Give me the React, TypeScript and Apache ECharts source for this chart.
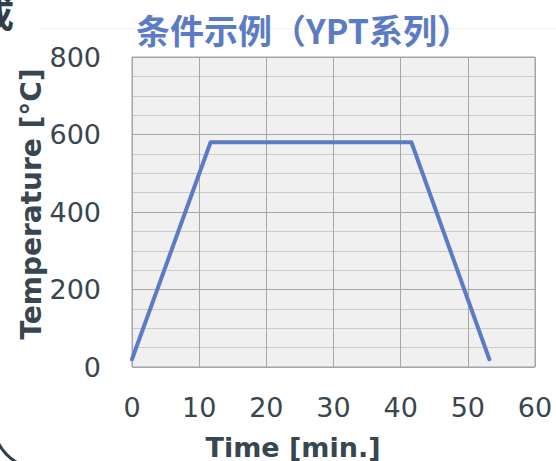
import React, { useEffect, useRef } from "react";
import * as echarts from "echarts";

const titleText = "条件示例（YPT系列）";
const xName = "Time [min.]";
const yName = "Temperature [°C]";
const timeValues = [0, 11.7, 41.6, 53.2];
const tempValues = [20, 580, 580, 20];
const xTicks = [0, 60, 10];
const yTicks = [0, 800, 200];

export default function App() {
  const ref = useRef<HTMLDivElement>(null);
  useEffect(() => {
    if (!ref.current) return;
    const chart = echarts.init(ref.current, null, { renderer: "svg" });
    const textColor = "#37464f";
    const data = timeValues.map((t, i) => [t, tempValues[i]]);
    const arcPts: number[][] = [];
    for (let a = 112; a <= 152; a += 4) {
      const r = (a * Math.PI) / 180;
      arcPts.push([41 + 48 * Math.cos(r), 421 + 48 * Math.sin(r)]);
    }
    chart.setOption({
      animation: false,
      backgroundColor: "#ffffff",
      grid: {
        left: 132,
        top: 57,
        right: 21,
        bottom: 94,
        show: true,
        backgroundColor: "#f0f0f0",
        borderColor: "#9fa3a6",
        borderWidth: 1,
      },
      xAxis: {
        type: "value",
        min: xTicks[0],
        max: xTicks[1],
        interval: xTicks[2],
        axisLine: { show: false },
        axisTick: { show: false },
        axisLabel: {
          color: textColor,
          fontSize: 27,
          fontFamily: "DejaVu Sans",
          margin: 27,
        },
        splitLine: { show: true, lineStyle: { color: "#a3a7aa", width: 1 } },
      },
      yAxis: {
        type: "value",
        min: yTicks[0],
        max: yTicks[1],
        interval: yTicks[2],
        axisLine: { show: false },
        axisTick: { show: false },
        axisLabel: {
          color: textColor,
          fontSize: 27,
          fontFamily: "DejaVu Sans",
          margin: 31,
        },
        splitLine: { show: true, lineStyle: { color: "#a3a7aa", width: 1 } },
        minorTick: { show: false, splitNumber: 4 },
        minorSplitLine: { show: true, lineStyle: { color: "#c9cbcc", width: 1 } },
      },
      series: [
        {
          type: "line",
          data,
          showSymbol: false,
          symbol: "none",
          lineStyle: { color: "#5b7cc4", width: 4, cap: "round", join: "round" },
        },
      ],
      graphic: [
        {
          type: "line",
          shape: { x1: 40, y1: 28.5, x2: 556, y2: 28.5 },
          style: { stroke: "#f3f3f3", lineWidth: 1 },
          silent: true,
        },
        {
          type: "text",
          x: 136,
          y: 29,
          style: {
            text: titleText,
            fill: "#5b7cc4",
            font: "bold 34px 'Noto Sans CJK SC'",
            textVerticalAlign: "middle",
            textAlign: "left",
          },
        },
        {
          type: "text",
          x: -22,
          y: 12,
          style: {
            text: "成",
            fill: "#2f3e47",
            font: "bold 36px 'Noto Sans CJK SC'",
            textVerticalAlign: "middle",
            textAlign: "left",
          },
        },
        {
          type: "polyline",
          shape: { points: arcPts },
          style: { stroke: "#2f3e47", lineWidth: 3, fill: null },
        },
        {
          type: "text",
          x: 293,
          y: 447,
          style: {
            text: xName,
            fill: textColor,
            font: "bold 27px 'DejaVu Sans'",
            textAlign: "center",
            textVerticalAlign: "middle",
          },
        },
        {
          type: "text",
          x: 31,
          y: 204,
          rotation: Math.PI / 2,
          style: {
            text: yName,
            fill: textColor,
            font: "bold 28px 'DejaVu Sans'",
            textAlign: "center",
            textVerticalAlign: "middle",
          },
        },
      ],
    });
    return () => chart.dispose();
  }, []);
  return (
    <div
      ref={ref}
      style={{ position: "fixed", left: 0, top: 0, width: 556, height: 461 }}
    />
  );
}
